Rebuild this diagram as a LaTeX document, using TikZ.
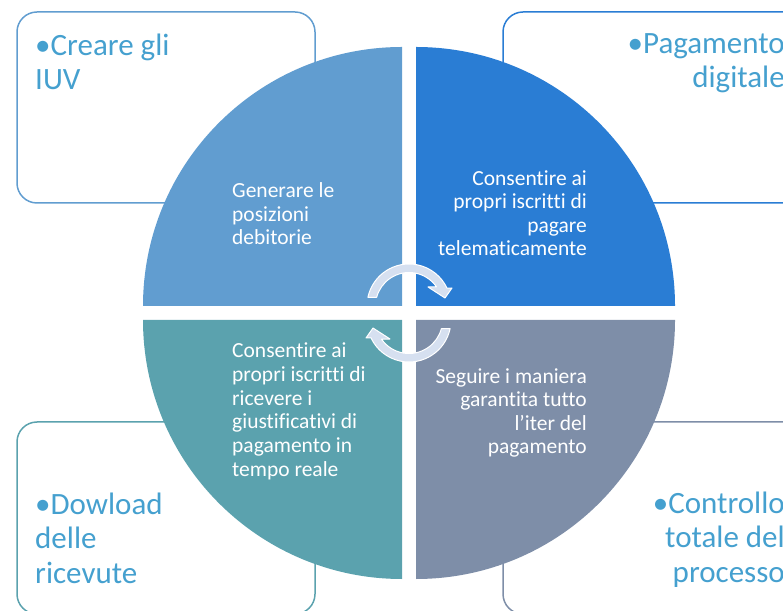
\documentclass[tikz,border=0pt]{standalone}
\usepackage{fontspec}
\setmainfont{Carlito}[Ligatures=NoCommon]
\definecolor{qtl}{RGB}{97,157,208}
\definecolor{qtr}{RGB}{42,125,212}
\definecolor{qbl}{RGB}{91,162,174}
\definecolor{qbr}{RGB}{126,142,168}
\definecolor{outtxt}{RGB}{69,160,207}
\definecolor{arrfill}{RGB}{214,224,240}
\begin{document}
\begin{tikzpicture}[x=1pt,y=1pt,
  outerbox/.style={line width=1.5pt, rounded corners=20pt},
  outertext/.style={inner sep=0pt, text=outtxt, font=\fontsize{31}{34.5}\selectfont},
  innertext/.style={inner sep=0pt, text=white, font=\fontsize{21.5}{23.6}\selectfont},
  cyclearrow/.style={fill=arrfill, draw=white, line width=1pt, line join=round}]
\useasboundingbox (0,0) rectangle (783,610);
\clip (0,0) rectangle (783,610);
% outer boxes
\draw[outerbox, draw=qtl] (17,407) rectangle (315,598);
\draw[outerbox, draw=qtr] (503,407) rectangle (830,598);
\draw[outerbox, draw=qbl] (17,-4) rectangle (315,188);
\draw[outerbox, draw=qbr] (503,-4) rectangle (830,188);
% quadrants
\fill[qtl] (402,304) -- (143,304) arc[start angle=180, end angle=90, radius=259] -- cycle;
\fill[qtr] (416,304) -- (416,563) arc[start angle=90, end angle=0, radius=259] -- cycle;
\fill[qbl] (402,290) -- (402,31) arc[start angle=270, end angle=180, radius=259] -- cycle;
\fill[qbr] (416,290) -- (675,290) arc[start angle=0, end angle=-90, radius=259] -- cycle;
% outer texts (base anchor = last line)
\node[outertext, anchor=base west, align=left] (tl) at (35,520) {•Creare gli\\IUV};
\node[outertext, anchor=base east, align=right] (tr) at (785,522) {•Pagamento\\digitale};
\node[outertext, anchor=base west, align=left] (bl) at (35,27) {•Dowload\\delle\\ricevute};
\node[outertext, anchor=base east, align=right] (br) at (785,28) {•Controllo\\totale del\\processo};
% inner texts
\node[innertext, anchor=base west, align=left] (itl) at (232,365) {Generare le\\posizioni\\debitorie};
\node[innertext, anchor=base east, align=right] (itr) at (587,354) {Consentire ai\\propri iscritti di\\pagare\\telematicamente};
\node[innertext, anchor=base west, align=left] (ibl) at (232,134) {Consentire ai\\propri iscritti di\\ricevere i\\giustificativi di\\pagamento in\\tempo reale};
\node[innertext, anchor=base east, align=right] (ibr) at (587,156) {Seguire i maniera\\garantita tutto\\l’iter del\\pagamento};
% cycle arrows
\begin{scope}[shift={(409,304)}]
\path[cyclearrow] (168:42) arc[start angle=168, end angle=25, radius=42]
  -- (43,18) -- (36,8) -- (19,19) -- (35:33.5)
  arc[start angle=35, end angle=165, radius=33.5] -- cycle;
\end{scope}
\begin{scope}[shift={(409,290)}, rotate=180]
\path[cyclearrow] (168:42) arc[start angle=168, end angle=25, radius=42]
  -- (43,18) -- (36,8) -- (19,19) -- (35:33.5)
  arc[start angle=35, end angle=165, radius=33.5] -- cycle;
\end{scope}
\end{tikzpicture}
\end{document}
